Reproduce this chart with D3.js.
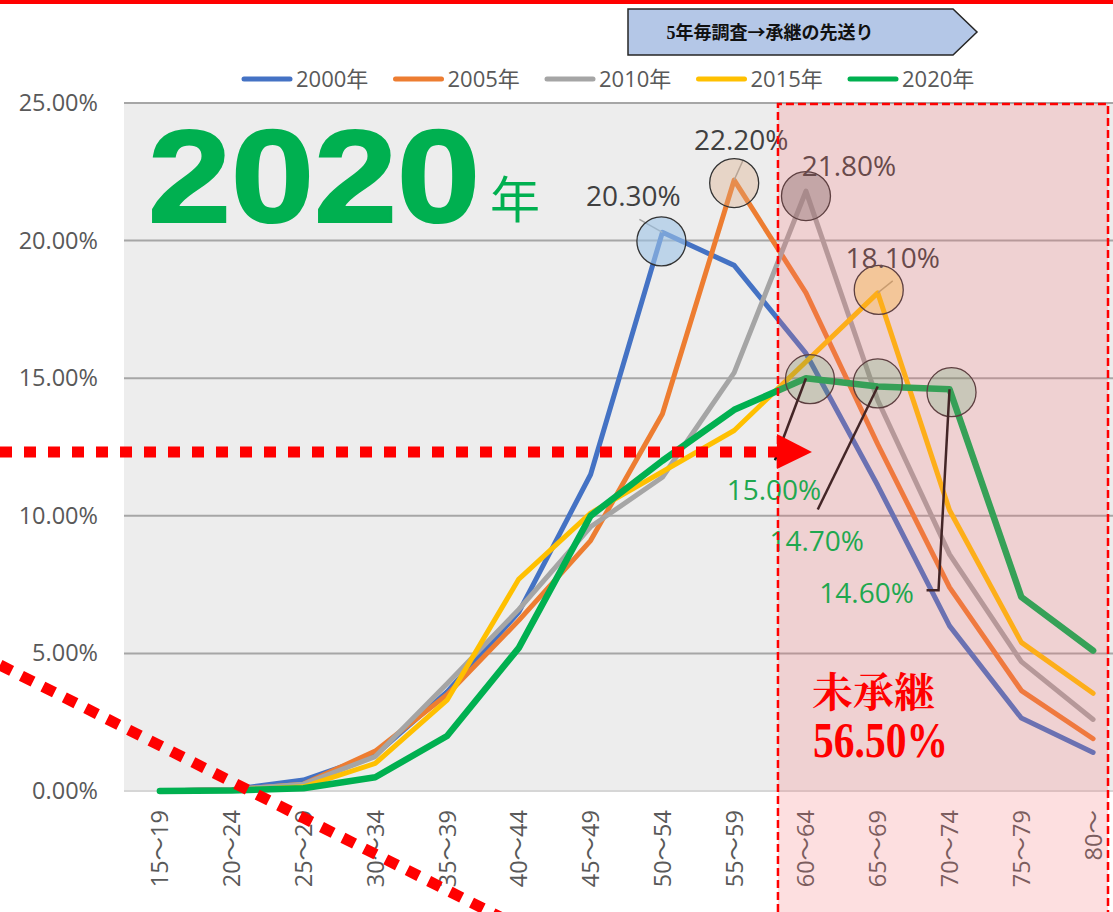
<!DOCTYPE html>
<html>
<head>
<meta charset="utf-8">
<script src="https://cdn.jsdelivr.net/npm/d3@7"></script>
<style>
  html, body { margin: 0; padding: 0; background: #fff; }
  svg { display: block; }
</style>
</head>
<body>
<script>
// Age brackets of business owners
const categories = ["15～19","20～24","25～29","30～34","35～39","40～44","45～49",
                    "50～54","55～59","60～64","65～69","70～74","75～79","80～"];
const seriesNames = ["2000年","2005年","2010年","2015年","2020年"];

// Share of owners per age bracket (%)
const s2000 = [0, 0.05, 0.4, 1.3, 3.6, 6.5, 11.5, 20.3, 19.1, 15.9, 11.1, 6.0, 2.65, 1.4];
const s2005 = [0, 0.05, 0.25, 1.45, 3.5, 6.2, 9.1, 13.7, 22.2, 18.1, 12.6, 7.4, 3.65, 1.9];
const s2010 = [0, 0.05, 0.25, 1.25, 3.9, 6.6, 9.6, 11.4, 15.2, 21.8, 14.2, 8.6, 4.7, 2.6];
const s2015 = [0, 0.03, 0.15, 1.0, 3.3, 7.7, 10.1, 11.6, 13.1, 15.6, 18.1, 10.2, 5.4, 3.55];
const s2020 = [0, 0.02, 0.1, 0.5, 2.0, 5.2, 10.0, 12.0, 13.85, 15.0, 14.7, 14.6, 7.05, 5.1];
const seriesValues = [s2000, s2005, s2010, s2015, s2020];

const yTicks = [0, 5, 10, 15, 20, 25];

// Peak points that carry a value label (series index, bracket)
const markSeries = [0, 1, 2, 3, 4, 4, 4];
const markCats   = ["50～54","55～59","60～64","65～69","60～64","65～69","70～74"];

const unsucceededShare = 56.5;   // share of owners aged 60+ in 2020 (%)

const colors = ["#4472C4", "#ED7D31", "#A5A5A5", "#FFC000", "#00B050"];

const W = 1113, H = 912;
const plotLeft = 124, plotTop = 103, plotBottom = 791;

const svg = d3.select("body").append("svg").attr("width", W).attr("height", H);
svg.append("rect").attr("width", W).attr("height", H).attr("fill", "#fff");

const x = d3.scaleBand().domain(categories).range([plotLeft, 1129]).padding(0);
const cx = c => x(c) + x.bandwidth() / 2;
const y = d3.scaleLinear().domain([0, 25]).range([plotBottom, plotTop]);
const pct = v => d3.format(".2f")(v) + "%";

const tickFont = "'Open Sans', 'Noto Sans CJK JP', sans-serif";

// plot background
svg.append("rect").attr("x", plotLeft).attr("y", plotTop)
  .attr("width", W - plotLeft).attr("height", plotBottom - plotTop).attr("fill", "#EDEDED");

// gridlines
svg.append("g").selectAll("line").data(yTicks).join("line")
  .attr("x1", plotLeft).attr("x2", W)
  .attr("y1", d => y(d)).attr("y2", d => y(d))
  .attr("stroke", d => d === 0 ? "#D6D6D6" : "#A6A6A6").attr("stroke-width", 2);

// y axis
const yAxis = svg.append("g").attr("transform", `translate(${plotLeft},0)`)
  .call(d3.axisLeft(y).tickValues(yTicks).tickFormat(pct).tickSize(0).tickPadding(26));
yAxis.select(".domain").remove();
yAxis.selectAll("text").attr("font-family", tickFont).attr("font-size", 23.5)
  .attr("fill", "#595959");

// x axis, rotated labels
const xAxis = svg.append("g").attr("transform", `translate(0,${plotBottom})`)
  .call(d3.axisBottom(x).tickSize(0));
xAxis.select(".domain").remove();
xAxis.selectAll("text")
  .attr("font-family", tickFont).attr("font-size", 23.5).attr("fill", "#595959")
  .attr("transform", "rotate(-90)")
  .attr("text-anchor", "end")
  .attr("x", -19).attr("y", 0).attr("dy", "0.36em");

// series lines
const line = d3.line().x((d, i) => cx(categories[i])).y(d => y(d));
seriesValues.forEach((vals, si) => {
  svg.append("path").datum(vals)
    .attr("d", line).attr("fill", "none")
    .attr("stroke", colors[si]).attr("stroke-width", si === 4 ? 6.5 : 5)
    .attr("stroke-linejoin", "round").attr("stroke-linecap", "round");
});

// highlighted points: circle + value label
const marks = markSeries.map((si, k) => {
  const c = markCats[k];
  const v = seriesValues[si][categories.indexOf(c)];
  return { si, c, v, px: cx(c), py: y(v) };
});
const circleFill = ["rgba(157,195,230,0.6)", "rgba(222,170,130,0.35)", "rgba(127,127,127,0.5)",
                    "rgba(255,192,0,0.3)", "rgba(0,176,80,0.2)"];
const circleOffset = [[-1, 9], [0, 3], [0, 5], [1, -3], [4, 1], [0, -3], [2, 3]];
const labelOffset = [[-29, -26], [7, -30], [43, -15], [15, -25], [-32, 122], [-61, 165], [-83, 214]];

// thin leader lines of the upper labels
const thinLeads = [[-23, -13], [9, -20], null, [15, -12]];
marks.forEach((m, k) => {
  if (k < 4 && thinLeads[k]) {
    svg.append("line").attr("x1", m.px).attr("y1", m.py)
      .attr("x2", m.px + thinLeads[k][0]).attr("y2", m.py + thinLeads[k][1])
      .attr("stroke", "#A0A0A0").attr("stroke-width", 1.5);
  }
});

marks.forEach((m, k) => {
  svg.append("circle")
    .attr("cx", m.px + circleOffset[k][0]).attr("cy", m.py + circleOffset[k][1]).attr("r", 24.5)
    .attr("fill", circleFill[m.si]).attr("stroke", "#333").attr("stroke-width", 1.3);
});

// labels of the earlier survey peaks
marks.slice(0, 4).forEach((m, k) => {
  svg.append("text")
    .attr("x", m.px + labelOffset[k][0]).attr("y", m.py + labelOffset[k][1])
    .attr("text-anchor", "middle")
    .attr("font-family", tickFont).attr("font-size", 28)
    .attr("fill", "#404040")
    .text(pct(m.v));
});

// black leader lines of the 2020 labels
const g2020 = marks.slice(4);
const leadPaths = [
  [[0, 0], [-31, 82]],
  [[0, 0], [-60, 123]],
  [[0, 0], [-11, 201], [-23, 201]]
];
g2020.forEach((m, k) => {
  svg.append("path")
    .attr("d", d3.line()(leadPaths[k].map(p => [m.px + p[0], m.py + p[1]])))
    .attr("fill", "none").attr("stroke", "#111").attr("stroke-width", 2.5);
});

// 60+ zone overlay
const zoneX0 = cx("60～64") - 28, zoneX1 = 1108;
svg.append("rect").attr("x", zoneX0).attr("y", plotTop + 1)
  .attr("width", zoneX1 - zoneX0).attr("height", H - plotTop)
  .attr("fill", "rgba(246,110,114,0.22)");

// 2020 labels
g2020.forEach((m, k) => {
  svg.append("text")
    .attr("x", m.px + labelOffset[k + 4][0]).attr("y", m.py + labelOffset[k + 4][1])
    .attr("text-anchor", "middle")
    .attr("font-family", tickFont).attr("font-size", 28)
    .attr("fill", "#1FA84F")
    .text(pct(m.v));
});

svg.append("path")
  .attr("d", `M${zoneX0},${H} V${plotTop + 1} H${zoneX1} V${H}`)
  .attr("fill", "none").attr("stroke", "#FF0000").attr("stroke-width", 2.5)
  .attr("stroke-dasharray", "8 4");

// red dotted arrow pointing at the 2020 level
const arrowY = 452;
svg.append("line").attr("x1", 0).attr("x2", zoneX0).attr("y1", arrowY).attr("y2", arrowY)
  .attr("stroke", "#FF0000").attr("stroke-width", 11).attr("stroke-dasharray", "12 12");
svg.append("path")
  .attr("d", `M${zoneX0 - 1},${arrowY - 18} L${zoneX0 + 34},${arrowY} L${zoneX0 - 1},${arrowY + 17} Z`)
  .attr("fill", "#FF0000");

// red dotted diagonal
svg.append("line").attr("x1", 0).attr("y1", 665).attr("x2", 520).attr("y2", 927)
  .attr("stroke", "#FF0000").attr("stroke-width", 11).attr("stroke-dasharray", "13 11");

// zone caption
const serif = "'Liberation Serif', 'Noto Serif CJK JP', 'Noto Sans CJK JP', serif";
svg.append("text").attr("x", 812).attr("y", 707)
  .attr("font-family", serif).attr("font-weight", "bold").attr("font-size", 41)
  .attr("fill", "#FF0000").text("未承継");
svg.append("text").attr("x", 813).attr("y", 757)
  .attr("font-family", serif).attr("font-weight", "bold").attr("font-size", 50)
  .attr("textLength", 135).attr("lengthAdjust", "spacingAndGlyphs")
  .attr("fill", "#FF0000").text(pct(unsucceededShare));

// big year caption
svg.append("text").attr("x", 148).attr("y", 222)
  .attr("font-family", "'Liberation Sans', Arial, sans-serif").attr("font-weight", "bold")
  .attr("font-size", 131).attr("textLength", 332).attr("lengthAdjust", "spacingAndGlyphs")
  .attr("fill", "#00B050").attr("stroke", "#00B050").attr("stroke-width", 2)
  .text("2020");
svg.append("text").attr("x", 490).attr("y", 218)
  .attr("font-family", "'Noto Sans CJK JP', sans-serif").attr("font-size", 50)
  .attr("fill", "#00B050").text("年");

// banner arrow
svg.append("path").attr("d", "M628,9 L953,9 L977,32 L953,55 L628,55 Z")
  .attr("fill", "#B4C7E7").attr("stroke", "#262626").attr("stroke-width", 1.5);
const banner = svg.append("text").attr("x", 770).attr("y", 39).attr("text-anchor", "middle")
  .attr("font-family", "'Noto Sans CJK JP', sans-serif").attr("font-weight", "bold")
  .attr("font-size", 18).attr("fill", "#111");
banner.append("tspan").attr("font-family", "'Liberation Serif', serif").text("5");
banner.append("tspan").text("年毎調査→承継の先送り");

// legend
const legend = svg.append("g");
seriesNames.forEach((name, i) => {
  const lx = 242 + i * 151.5, ly = 79;
  legend.append("line").attr("x1", lx + 2).attr("x2", lx + 48).attr("y1", ly).attr("y2", ly)
    .attr("stroke", colors[i]).attr("stroke-width", 5).attr("stroke-linecap", "round");
  legend.append("text").attr("x", lx + 54).attr("y", ly + 8)
    .attr("font-family", tickFont).attr("font-size", 22).attr("fill", "#595959").text(name);
});

// top red rule
svg.append("rect").attr("x", 0).attr("y", 0).attr("width", W).attr("height", 4).attr("fill", "#FF0000");
</script>
</body>
</html>
